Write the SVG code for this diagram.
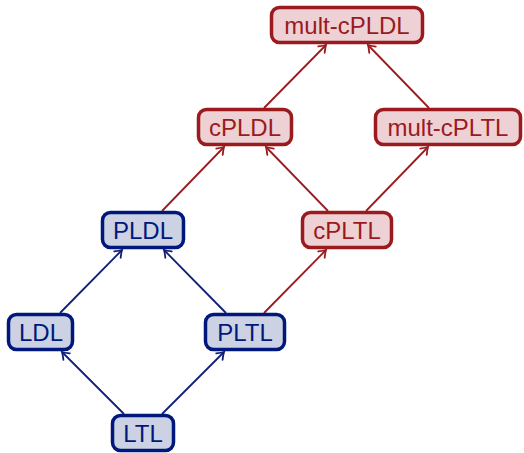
<svg xmlns="http://www.w3.org/2000/svg" width="524" height="453" viewBox="0 0 524 453">
<style>
.b rect{fill:#ccd2e4;stroke:#00187c;stroke-width:3.5}
.r rect{fill:#eed1d4;stroke:#9a1a1e;stroke-width:3.5}
text{font-family:"Liberation Sans",Arial,sans-serif;font-size:24px;text-anchor:middle}
.b text{fill:#00187c}
.r text{fill:#9a1a1e}
.eb{stroke:#0f1f78;stroke-width:1.8;fill:none;marker-end:url(#ab)}
.er{stroke:#9a1a1e;stroke-width:1.8;fill:none;marker-end:url(#ar)}
</style>
<defs>
<marker id="ab" markerUnits="userSpaceOnUse" markerWidth="12" markerHeight="12" viewBox="-7 -6 8 12" refX="0" refY="0" orient="auto" overflow="visible">
<path d="M-6.5,-4.5 Q-2,-1 0,0 Q-2,1 -6.5,4.5" fill="none" stroke="#0f1f78" stroke-width="1.8" stroke-linecap="round"/>
</marker>
<marker id="ar" markerUnits="userSpaceOnUse" markerWidth="12" markerHeight="12" viewBox="-7 -6 8 12" refX="0" refY="0" orient="auto" overflow="visible">
<path d="M-6.5,-4.5 Q-2,-1 0,0 Q-2,1 -6.5,4.5" fill="none" stroke="#9a1a1e" stroke-width="1.8" stroke-linecap="round"/>
</marker>
</defs>
<g id="connectors">
<line class="eb" x1="124" y1="414" x2="62" y2="352"/>
<line class="eb" x1="162" y1="414" x2="224" y2="352"/>
<line class="eb" x1="60" y1="313" x2="122" y2="250"/>
<line class="eb" x1="226" y1="313" x2="164" y2="250"/>
<line class="er" x1="264" y1="313" x2="326" y2="250"/>
<line class="er" x1="162" y1="211" x2="224" y2="147"/>
<line class="er" x1="328" y1="211" x2="266" y2="147"/>
<line class="er" x1="366" y1="211" x2="428" y2="147"/>
<line class="er" x1="264" y1="108" x2="326" y2="45"/>
<line class="er" x1="429" y1="108" x2="368" y2="45"/>
</g>
<g id="n-multcPLDL" class="r"><rect x="271.5" y="7.5" width="151" height="35" rx="8"/><text x="347" y="34">mult-cPLDL</text></g>
<g id="n-cPLDL" class="r"><rect x="198.5" y="109.5" width="93" height="35" rx="8"/><text x="245" y="136">cPLDL</text></g>
<g id="n-multcPLTL" class="r"><rect x="375.5" y="109.5" width="145" height="35" rx="8"/><text x="448" y="136">mult-cPLTL</text></g>
<g id="n-PLDL" class="b"><rect x="102.5" y="212.5" width="81" height="35" rx="8"/><text x="143" y="239">PLDL</text></g>
<g id="n-cPLTL" class="r"><rect x="302.5" y="212.5" width="89" height="35" rx="8"/><text x="347" y="239">cPLTL</text></g>
<g id="n-LDL" class="b"><rect x="8.5" y="314.5" width="64" height="35" rx="8"/><text x="41" y="341">LDL</text></g>
<g id="n-PLTL" class="b"><rect x="205.5" y="314.5" width="79" height="35" rx="8"/><text x="245" y="341">PLTL</text></g>
<g id="n-LTL" class="b"><rect x="112.5" y="415.5" width="61" height="35" rx="8"/><text x="143" y="442">LTL</text></g>
</svg>
